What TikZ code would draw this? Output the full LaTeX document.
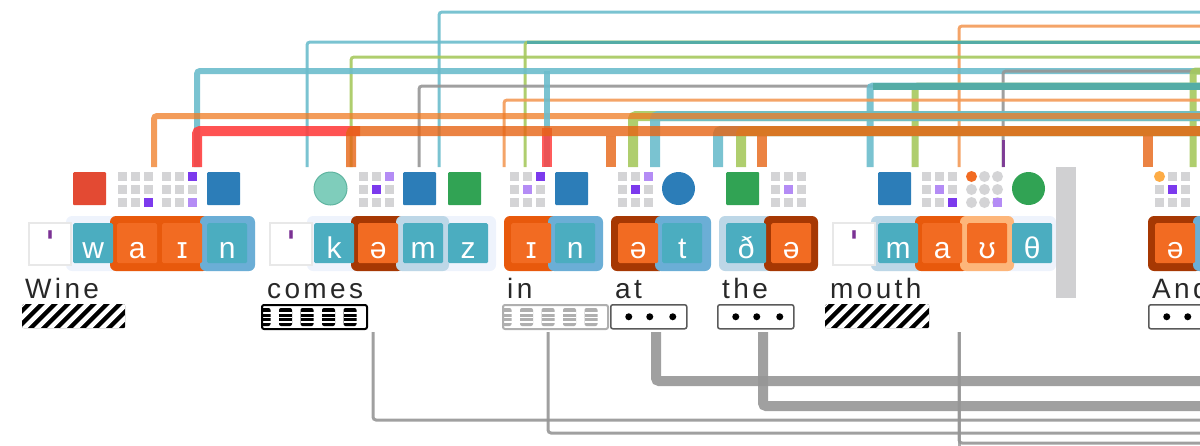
\documentclass[tikz,border=0pt]{standalone}
\usepackage{fontspec}
\setmainfont{Liberation Sans}
\newfontfamily\lblfont[LetterSpace=12]{Liberation Sans}
\usetikzlibrary{calc}
\definecolor{tealbox}{RGB}{75,173,192}
\definecolor{orbox}{RGB}{242,107,34}
\definecolor{orbg}{RGB}{232,89,12}
\definecolor{brownbg}{RGB}{166,56,3}
\definecolor{lorbg}{RGB}{253,182,122}
\definecolor{bluebg}{RGB}{107,174,214}
\definecolor{bgbg}{RGB}{189,215,231}
\definecolor{wordbg}{RGB}{238,243,252}
\definecolor{stressgray}{RGB}{232,232,232}
\definecolor{stresspurple}{RGB}{123,50,148}
\definecolor{labelcol}{RGB}{40,40,40}
\definecolor{ired}{RGB}{227,74,51}
\definecolor{iblue}{RGB}{44,125,184}
\definecolor{igreen}{RGB}{49,163,84}
\definecolor{itealf}{RGB}{127,205,187}
\definecolor{iteald}{RGB}{95,180,160}
\definecolor{cellgray}{RGB}{212,212,214}
\definecolor{cpur}{RGB}{124,58,237}
\definecolor{clpur}{RGB}{180,140,245}
\definecolor{corange}{RGB}{242,107,34}
\definecolor{cyellow}{RGB}{253,172,70}
\definecolor{lcyan}{RGB}{107,188,204}
\definecolor{lteal}{RGB}{84,172,166}
\definecolor{lorange}{RGB}{243,154,88}
\definecolor{morange}{RGB}{239,123,35}
\definecolor{qorange}{RGB}{230,100,20}
\definecolor{lred}{RGB}{255,64,64}
\definecolor{lgreen}{RGB}{166,201,94}
\definecolor{lgray}{RGB}{150,150,150}
\definecolor{lpurple}{RGB}{123,50,148}
\definecolor{sepgray}{RGB}{208,208,210}
\definecolor{bargray}{RGB}{90,90,90}
\definecolor{fadegray}{RGB}{175,175,175}
\newcommand\gridcells[1]{\foreach \r in {0,1,2}{\foreach \c in {0,1,2}{\fill[cellgray] ({#1+13*\c},{172+13*\r}) rectangle ++(9,9);}}}
\newcommand\circcells[1]{\foreach \r in {0,1,2}{\foreach \c in {0,1,2}{\fill[cellgray] ({#1+13*\c+4.5},{172+13*\r+4.5}) circle[radius=5.5pt];}}}
\newcommand\gcell[4]{\fill[#4] ({#1+13*#3},{172+13*#2}) rectangle ++(9,9);}
\newcommand\gdot[4]{\fill[white] ({#1+13*#3-2},{172+13*#2-2}) rectangle ++(13,13);\fill[#4] ({#1+13*#3+4.5},{172+13*#2+4.5}) circle[radius=5.5pt];}
\begin{document}
\begin{tikzpicture}[x=1pt,y=-1pt,
  conn/.style={rounded corners=3pt, opacity=0.9},
  bconn/.style={draw=lgray, rounded corners=3pt, opacity=0.9},
  phbox/.style={anchor=north west, minimum width=40pt, minimum height=40pt, inner sep=0pt, text=white, font=\fontsize{30}{32}\selectfont, text height=30pt, text depth=0pt, rounded corners=1.5pt},
  cons/.style={phbox, fill=tealbox},
  vow/.style={phbox, fill=orbox},
  grp/.style={rounded corners=6pt},
  sq/.style={anchor=north west, minimum size=33pt, inner sep=0pt, rounded corners=1pt},
  circ/.style={circle, minimum size=33pt, inner sep=0pt},
  stressbox/.style={anchor=north west, minimum width=42pt, minimum height=42pt, inner sep=0pt, fill=white, draw=stressgray, line width=1.5pt},
  smark/.style={anchor=base, text=stresspurple, font=\bfseries\fontsize{48}{50}\selectfont, inner sep=0pt},
  lbl/.style={anchor=base west, inner sep=0pt, text=labelcol, font=\lblfont\fontsize{28}{30}\selectfont},
  barnode/.style={anchor=north west, minimum width=#1, minimum height=24pt, inner sep=0pt, rounded corners=2pt},
  hatchbar/.style={barnode=#1, fill=black, path picture={\foreach \i in {-3,...,10}{\draw[white, line width=4.5pt] ($(path picture bounding box.south west)+(\i*13pt,-2pt)$) -- ++(28pt,28pt);}}},
  dashbar/.style 2 args={barnode=#1, fill=white, draw=#2, line width=2pt, path picture={\foreach \xo in {-4.5,17,38.5,60,81.5}{\fill[#2] ($(path picture bounding box.north west)+(\xo pt,-3pt)$) rectangle ++(13pt,-18pt); \foreach \yo in {8,12.5,17}{\draw[white, line width=1.6pt] ($(path picture bounding box.north west)+(\xo pt,-\yo pt)$) -- ++(13pt,0);}}}},
  dotbar/.style={barnode=#1, fill=white, draw=bargray, line width=1.5pt, path picture={\foreach \xo in {18,39,62}{\fill[black] ($(path picture bounding box.west)+(\xo pt,0)$) circle[radius=3.5pt];}}}
]
\useasboundingbox (0,0) rectangle (1200,445);
\clip (0,0) rectangle (1200,445);

% ---------- upper connectors ----------
\foreach \nm/\x/\y/\col/\w in {A/439/12/lcyan/3, B/959/26/lorange/3, C/307/42/lcyan/3, D/525/42/lgreen/3, E/351/57/lgreen/3, F/197/71/lcyan/6, G/1003/71/lgray/3, H/1193/71/lgreen/7, I/419/86/lgray/3, K/915/86/lgreen/7, J/870/86/lcyan/7, L/504/100/lorange/3, N/633/116/lgreen/10, O/655/116/lcyan/10}
{
  \coordinate (top\nm) at (\x,167);
  \coordinate (end\nm) at (1215,\y);
  \draw[conn, draw=\col, line width=\w pt] (top\nm) |- (end\nm);
}
\coordinate (jD) at (527,42);
\draw[draw=lteal, line width=3pt] (jD) -- (endD);
\coordinate (jJ) at (873,86);
\draw[draw=lteal, line width=7pt] (jJ) -- (endJ);
\coordinate (topM) at (154,167);
\coordinate (endM) at (1215,116);
\draw[rounded corners=3pt, draw=morange, line width=6pt, opacity=0.75] (topM) |- (endM);

\coordinate (topF2) at (547,167);
\coordinate (midF2) at (547,71);
\draw[conn, draw=lcyan, line width=6pt] (topF2) -- (midF2);
\coordinate (topG2) at (1003,167);
\coordinate (midG2) at (1003,140);
\draw[draw=lpurple, line width=3pt, opacity=0.9] (topG2) -- (midG2);

\coordinate (topP) at (197,167);
\coordinate (cornP) at (360,131);
\draw[conn, draw=lred, line width=10pt] (topP) |- (cornP);
\coordinate (topP2) at (547,167);
\coordinate (midP2) at (547,128);
\draw[draw=lred, line width=10pt, opacity=0.85] (topP2) -- (midP2);
\foreach \nm/\x/\y/\col in {R/718/131/lcyan, S/741/131/lgreen}
{
  \coordinate (top\nm) at (\x,167);
  \coordinate (end\nm) at (1215,\y);
  \draw[conn, draw=\col, line width=10pt] (top\nm) |- (end\nm);
}
\coordinate (topQ) at (351,167);
\coordinate (endQ) at (1215,131);
\draw[rounded corners=3pt, draw=qorange, line width=10pt, opacity=0.8] (topQ) |- (endQ);
\foreach \nm/\x in {Q2/611, Q3/762, Q4/1148}
{
  \coordinate (top\nm) at (\x,167);
  \coordinate (mid\nm) at (\x,136);
  \draw[draw=qorange, line width=10pt, opacity=0.8] (top\nm) -- (mid\nm);
}

% ---------- icons ----------
\node[sq, fill=ired] (iW1) at (73,172) {};
\gridcells{118} \gcell{118}{2}{2}{cpur}
\gridcells{162} \gcell{162}{0}{2}{cpur} \gcell{162}{2}{2}{clpur}
\node[sq, fill=iblue] (iW4) at (207,172) {};

\node[circ, fill=itealf, draw=iteald, line width=1pt] (iC1) at (330.5,188.5) {};
\gridcells{359} \gcell{359}{0}{2}{clpur} \gcell{359}{1}{1}{cpur}
\node[sq, fill=iblue] (iC3) at (403,172) {};
\node[sq, fill=igreen] (iC4) at (448,172) {};

\gridcells{510} \gcell{510}{0}{2}{cpur} \gcell{510}{1}{1}{clpur}
\node[sq, fill=iblue] (iI2) at (555,172) {};

\gridcells{618} \gcell{618}{0}{2}{clpur} \gcell{618}{1}{1}{cpur}
\node[circ, fill=iblue] (iA2) at (678.5,188.5) {};

\node[sq, fill=igreen] (iT1) at (726,172) {};
\gridcells{771} \gcell{771}{1}{1}{clpur}

\node[sq, fill=iblue] (iM1) at (878,172) {};
\gridcells{922} \gcell{922}{1}{1}{clpur} \gcell{922}{2}{2}{cpur}
\circcells{967} \gdot{967}{0}{0}{corange} \fill[white] (993,198) rectangle ++(11,11); \gcell{967}{2}{2}{clpur}
\node[circ, fill=igreen] (iM4) at (1028.5,188.5) {};

\gridcells{1155} \gdot{1155}{0}{0}{cyellow} \gcell{1155}{1}{1}{cpur}

% ---------- word backgrounds ----------
\fill[wordbg, grp] (66,216) rectangle (255,271);
\fill[orbg, grp] (110,216) rectangle (209,271);
\fill[bluebg, grp] (200,216) rectangle (255,271);

\fill[wordbg, grp] (307,216) rectangle (496,271);
\fill[brownbg, grp] (351,216) rectangle (404,271);
\fill[bgbg, grp] (396,216) rectangle (449,271);

\fill[orbg, grp] (504,216) rectangle (558,271);
\fill[bluebg, grp] (548,216) rectangle (603,271);

\fill[brownbg, grp] (611,216) rectangle (666,271);
\fill[bluebg, grp] (655,216) rectangle (711,271);

\fill[bgbg, grp] (719,216) rectangle (773,271);
\fill[brownbg, grp] (764,216) rectangle (818,271);

\fill[wordbg, grp] (871,216) rectangle (1056,271);
\fill[bgbg, grp] (871,216) rectangle (925,271);
\fill[orbg, grp] (915,216) rectangle (969,271);
\fill[lorbg, grp] (960,216) rectangle (1014,271);

\fill[brownbg, grp] (1148,216) rectangle (1202,271);
\fill[bluebg, grp] (1193,216) rectangle (1250,271);

% ---------- stress boxes ----------
\node[stressbox] (sW) at (28,222) {};
\node[smark] (mW) at (50,265) {ˈ};
\node[stressbox] (sC) at (269,222) {};
\node[smark] (mC) at (291,265) {ˈ};
\node[stressbox] (sM) at (832,222) {};
\node[smark] (mM) at (854,265) {ˈ};

% ---------- phoneme boxes ----------
\node[cons] (pW1) at (73,223) {w};
\node[vow]  (pW2) at (117,223) {a};
\node[vow]  (pW3) at (162,223) {ɪ};
\node[cons] (pW4) at (207,223) {n};

\node[cons] (pC1) at (314,223) {k};
\node[vow]  (pC2) at (358,223) {ə};
\node[cons] (pC3) at (403,223) {m};
\node[cons] (pC4) at (448,223) {z};

\node[vow]  (pI1) at (511,223) {ɪ};
\node[cons] (pI2) at (555,223) {n};

\node[vow]  (pA1) at (618,223) {ə};
\node[cons] (pA2) at (662,223) {t};

\node[cons] (pT1) at (726,223) {ð};
\node[vow]  (pT2) at (771,223) {ə};

\node[cons] (pM1) at (878,223) {m};
\node[vow]  (pM2) at (922,223) {a};
\node[vow]  (pM3) at (967,223) {ʊ};
\node[cons] (pM4) at (1012,223) {θ};

\node[vow]  (pN1) at (1155,223) {ə};

\node[fill=sepgray, anchor=north west, minimum width=20pt, minimum height=131pt, inner sep=0pt] (sep) at (1056,167) {};

% ---------- labels ----------
\node[lbl] (lW) at (25,298) {Wine};
\node[lbl] (lC) at (267,298) {comes};
\node[lbl] (lI) at (507,298) {in};
\node[lbl] (lA) at (615,298) {at};
\node[lbl] (lT) at (722,298) {the};
\node[lbl] (lM) at (830,298) {mouth};
\node[lbl] (lN) at (1152,298) {And};

% ---------- bars ----------
\node[hatchbar=103pt] (bW) at (22,304) {};
\node[dashbar={105pt}{black}] (bC) at (261,304) {};
\node[dashbar={105pt}{fadegray}] (bI) at (502,304) {};
\node[dotbar=76pt] (bA) at (610,304) {};
\node[dotbar=76pt] (bT) at (717,304) {};
\node[hatchbar=104pt] (bM) at (825,304) {};
\node[dotbar=76pt] (bN) at (1148,304) {};

% ---------- lower connectors ----------
\foreach \nm/\x/\y/\w in {a/373/420/3, b/548/433/3, c/656/381/10, d/763/406/10}
{
  \coordinate (bs\nm) at (\x,332);
  \coordinate (be\nm) at (1215,\y);
  \draw[bconn, line width=\w pt] (bs\nm) |- (be\nm);
}
\coordinate (bse) at (959,332);
\coordinate (bee) at (1215,443);
\coordinate (bfe) at (959,450);
\draw[bconn, line width=3pt, opacity=0.8] (bse) -- (bfe);
\draw[bconn, line width=3pt] (bse) |- (bee);
\end{tikzpicture}
\end{document}
